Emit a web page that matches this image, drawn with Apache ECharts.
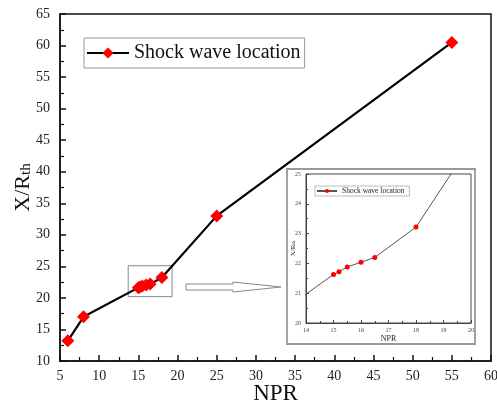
<!DOCTYPE html>
<html><head><meta charset="utf-8">
<script src="https://cdn.jsdelivr.net/npm/echarts@6/dist/echarts.min.js"></script>
<style>html,body{margin:0;padding:0;background:#fff}#c{width:497px;height:408px}</style>
</head><body><div id="c"></div>
<script>
const npr = [6, 8, 15, 15.2, 15.5, 16, 16.5, 18, 25, 55];
const xr = [13.2, 17.0, 21.63, 21.72, 21.88, 22.04, 22.2, 23.22, 33.0, 60.5];
const seriesName = 'Shock wave location';
const zoomBox = [[13.7, 20.2], [19.3, 25.1]];
const data = npr.map((v, i) => [v, xr[i]]);
const F = 'Liberation Serif, Times New Roman, serif';
const chart = echarts.init(document.getElementById('c'));
chart.setOption({
  backgroundColor: '#fff',
  animation: false,
  grid: [
    {left: 60, right: 6, top: 14, bottom: 47, show: true, borderColor: '#111', borderWidth: 1.5, outerBoundsMode: 'none', containLabel: false},
    {left: 306, width: 165, top: 174, height: 149, show: true, borderColor: '#444', borderWidth: 1, outerBoundsMode: 'none', containLabel: false}
  ],
  legend: [
    {data: [seriesName], left: 84, top: 38, itemWidth: 42, itemHeight: 14, itemGap: 5,
     padding: [5, 4, 5, 2], borderColor: '#999', borderWidth: 1,
     textStyle: {fontFamily: F, fontSize: 20, color: '#111'}},
    {data: [seriesName + ' '], left: 315, top: 186, itemWidth: 20, itemHeight: 5, itemGap: 2,
     padding: [1, 3, 1, 1], borderColor: '#aaa', borderWidth: 0.8,
     textStyle: {fontFamily: F, fontSize: 7.5, color: '#222'}}
  ],
  xAxis: [
    {type: 'value', gridIndex: 0, min: 5, max: 60, interval: 5,
     name: 'NPR', nameLocation: 'middle', nameGap: 21, nameMoveOverlap: false,
     nameTextStyle: {fontFamily: F, fontSize: 23, color: '#111'},
     axisLine: {lineStyle: {color: '#111', width: 1.5}},
     axisTick: {inside: true, length: 6, lineStyle: {color: '#111', width: 1.5}},
     minorTick: {show: true, splitNumber: 2, length: 4, lineStyle: {color: '#111', width: 1.2}},
     axisLabel: {fontFamily: F, fontSize: 14, color: '#222', margin: 8},
     splitLine: {show: false}},
    {type: 'value', gridIndex: 1, min: 14, max: 20, interval: 1,
     name: 'NPR', nameLocation: 'middle', nameGap: 12, nameMoveOverlap: false,
     nameTextStyle: {fontFamily: F, fontSize: 8, color: '#222'},
     axisLine: {lineStyle: {color: '#444', width: 1}},
     axisTick: {inside: true, length: 3, lineStyle: {color: '#444'}},
     minorTick: {show: true, splitNumber: 2, length: 2, lineStyle: {color: '#444'}},
     axisLabel: {fontFamily: F, fontSize: 6, color: '#444', margin: 4},
     splitLine: {show: false}}
  ],
  yAxis: [
    {type: 'value', gridIndex: 0, min: 10, max: 65, interval: 5,
     name: 'X/R{s|th}', nameLocation: 'middle', nameGap: 26, nameRotate: 90, nameMoveOverlap: false,
     nameTextStyle: {fontFamily: F, fontSize: 22, color: '#111',
       rich: {s: {fontFamily: F, fontSize: 15, color: '#111', padding: [6, 0, 0, 0]}}},
     axisLine: {lineStyle: {color: '#111', width: 1.5}},
     axisTick: {inside: true, length: 6, lineStyle: {color: '#111', width: 1.5}},
     minorTick: {show: true, splitNumber: 2, length: 4, lineStyle: {color: '#111', width: 1.2}},
     axisLabel: {fontFamily: F, fontSize: 14, color: '#222', margin: 10},
     splitLine: {show: false}},
    {type: 'value', gridIndex: 1, min: 20, max: 25, interval: 1,
     name: 'X/R{s|th}', nameLocation: 'middle', nameGap: 9, nameRotate: 90, nameMoveOverlap: false,
     nameTextStyle: {fontFamily: F, fontSize: 7, color: '#222',
       rich: {s: {fontFamily: F, fontSize: 5, color: '#222'}}},
     axisLine: {lineStyle: {color: '#444', width: 1}},
     axisTick: {inside: true, length: 3, lineStyle: {color: '#444'}},
     minorTick: {show: true, splitNumber: 2, length: 2, lineStyle: {color: '#444'}},
     axisLabel: {fontFamily: F, fontSize: 6, color: '#444', margin: 5},
     splitLine: {show: false}}
  ],
  series: [
    {name: seriesName, type: 'line', xAxisIndex: 0, yAxisIndex: 0, data: data,
     symbol: 'diamond', symbolSize: 13,
     lineStyle: {color: '#000', width: 2.2},
     itemStyle: {color: '#f00', borderWidth: 0},
     markArea: {silent: true, itemStyle: {color: 'rgba(0,0,0,0)', borderColor: '#888', borderWidth: 1},
       data: [[{coord: zoomBox[0]}, {coord: zoomBox[1]}]]}},
    {name: seriesName + ' ', type: 'line', xAxisIndex: 1, yAxisIndex: 1, data: data, clip: true,
     symbol: 'circle', symbolSize: 5,
     lineStyle: {color: '#555', width: 1},
     itemStyle: {color: '#f00', borderWidth: 0}}
  ],
  graphic: [
    {type: 'rect', shape: {x: 287, y: 169, width: 188, height: 175},
     style: {fill: 'none', stroke: '#999', lineWidth: 1.8}, z: 0},
    {type: 'polygon', shape: {points: [[186, 284], [233, 284], [233, 282], [281, 287], [233, 292], [233, 290], [186, 290]]},
     style: {fill: '#fff', stroke: '#888', lineWidth: 1}}
  ]
});
</script></body></html>
